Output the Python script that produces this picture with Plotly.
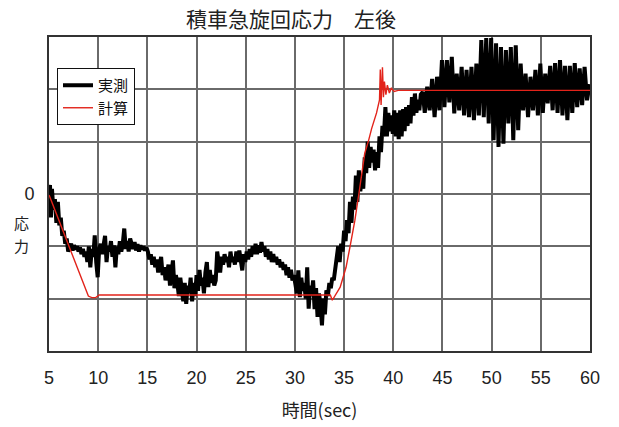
import plotly.graph_objects as go

# ---- data (time in sec, stress in grid units; 0 = reference line) ----
measured_5_10 = [
    (5.0, 0.05), (5.1, 0.17), (5.2, -0.45), (5.3, 0.1), (5.45, -0.3), (5.6, -0.1),
    (5.75, -0.55), (5.9, -0.15), (6.05, -0.6), (6.2, -0.45), (6.35, -0.8), (6.5, -0.7),
    (6.65, -0.95), (6.8, -0.85), (6.95, -1.1), (7.1, -1.0), (7.25, -0.95), (7.4, -1.08),
    (7.55, -0.98), (7.7, -1.06), (7.85, -1.0), (8.0, -1.1), (8.15, -1.02), (8.3, -1.15),
    (8.45, -1.05), (8.6, -1.2), (8.75, -1.1), (8.9, -1.3), (9.05, -1.0), (9.2, -1.4),
    (9.35, -1.05), (9.5, -1.2), (9.65, -0.79), (9.8, -1.3), (9.95, -1.59),
]
measured_10_15 = [
    (10.1, -1.05), (10.25, -0.95), (10.4, -1.15), (10.55, -1.0), (10.7, -0.8), (10.85, -1.3),
    (11.0, -1.0), (11.15, -1.1), (11.3, -0.9), (11.45, -1.2), (11.6, -0.98), (11.75, -1.4),
    (11.9, -1.0), (12.05, -1.15), (12.2, -0.9), (12.35, -1.1), (12.5, -0.95), (12.65, -0.66),
    (12.8, -1.05), (12.95, -0.9), (13.1, -1.1), (13.25, -0.85), (13.4, -0.95), (13.55, -1.05),
    (13.7, -0.92), (13.85, -1.08), (14.0, -0.96), (14.15, -1.1), (14.3, -0.98), (14.45, -1.06),
    (14.6, -1.0), (14.75, -1.08), (14.9, -1.02),
]
measured_15_19 = [
    (15.05, -1.1), (15.2, -1.25), (15.35, -1.15), (15.5, -1.35), (15.65, -1.2), (15.8, -1.4),
    (15.95, -1.25), (16.1, -1.5), (16.25, -1.3), (16.4, -1.2), (16.55, -1.55), (16.7, -1.4),
    (16.85, -1.65), (17.0, -1.45), (17.15, -1.35), (17.3, -1.75), (17.45, -1.5), (17.6, -1.27),
    (17.75, -1.8), (17.9, -1.55), (18.05, -1.7), (18.2, -1.95), (18.35, -1.6), (18.5, -1.85),
    (18.65, -2.05), (18.8, -1.7), (18.95, -2.1), (19.1, -1.75), (19.25, -1.9),
]
measured_19_25 = [
    (19.4, -1.6), (19.55, -2.05), (19.7, -1.7), (19.85, -1.95), (20.0, -1.55), (20.15, -1.85),
    (20.3, -1.45), (20.45, -1.75), (20.6, -1.6), (20.75, -1.9), (20.9, -1.5), (21.05, -1.3),
    (21.2, -1.78), (21.35, -1.45), (21.5, -1.7), (21.65, -1.55), (21.8, -1.75), (21.95, -1.65),
    (22.1, -1.1), (22.25, -1.3), (22.4, -1.5), (22.55, -1.2), (22.7, -1.35), (22.85, -1.15),
    (23.0, -1.3), (23.15, -1.2), (23.3, -1.4), (23.45, -1.1), (23.6, -1.3), (23.75, -1.2),
    (23.9, -1.35), (24.05, -1.1), (24.2, -1.3), (24.35, -1.08), (24.5, -1.25), (24.65, -1.46),
    (24.8, -1.15), (24.95, -1.3),
]
measured_25_30 = [
    (25.1, -1.1), (25.25, -1.25), (25.4, -1.05), (25.55, -1.2), (25.7, -1.0), (25.85, -1.15),
    (26.0, -0.95), (26.15, -1.15), (26.3, -0.98), (26.45, -1.12), (26.6, -0.92), (26.75, -1.1),
    (26.9, -1.0), (27.05, -1.2), (27.2, -1.05), (27.35, -1.25), (27.5, -1.1), (27.65, -1.3),
    (27.8, -1.15), (27.95, -1.3), (28.1, -1.2), (28.25, -1.35), (28.4, -1.25), (28.55, -1.4),
    (28.7, -1.3), (28.85, -1.45), (29.0, -1.35), (29.15, -1.55), (29.3, -1.4), (29.45, -1.6),
    (29.6, -1.45), (29.75, -1.65), (29.9, -1.55),
]
measured_30_34 = [
    (30.05, -1.7), (30.2, -1.9), (30.35, -1.46), (30.5, -1.97), (30.65, -1.6), (30.8, -1.85),
    (30.95, -1.7), (31.1, -2.0), (31.25, -1.4), (31.4, -2.19), (31.55, -1.75), (31.7, -1.95),
    (31.85, -1.65), (32.0, -2.2), (32.15, -1.8), (32.3, -2.35), (32.45, -1.9), (32.6, -2.1),
    (32.75, -2.51), (32.9, -2.0), (33.05, -2.3), (33.2, -1.84), (33.35, -1.95), (33.5, -1.7),
    (33.65, -1.8), (33.8, -1.6), (33.95, -1.65), (34.1, -1.4),
]
measured_34_43 = [
    (34.25, -1.25), (34.4, -1.0), (34.55, -1.3), (34.7, -0.95), (34.85, -1.1), (35.0, -0.7),
    (35.15, -0.9), (35.3, -0.5), (35.45, -0.75), (35.6, -0.15), (35.75, -0.55), (35.9, -0.05),
    (36.05, -0.3), (36.2, 0.35), (36.35, -0.15), (36.5, 0.45), (36.65, 0.05), (36.8, 0.3),
    (36.95, 0.1), (37.1, 0.7), (37.25, 0.4), (37.4, 1.0), (37.55, 0.5), (37.7, 0.9),
    (37.85, 0.6), (38.0, 0.85), (38.15, 0.45), (38.3, 0.8), (38.45, 0.5), (38.6, 1.1),
    (38.75, 0.8), (38.9, 1.3), (39.05, 1.1), (39.2, 1.66), (39.35, 1.1), (39.5, 1.55),
    (39.65, 1.2), (39.8, 1.5), (39.95, 1.15), (40.1, 1.6), (40.25, 1.1), (40.4, 1.55),
    (40.55, 1.05), (40.7, 1.6), (40.85, 1.1), (41.0, 1.62), (41.15, 1.2), (41.3, 1.66),
    (41.45, 1.3), (41.6, 1.7), (41.75, 1.35), (41.9, 1.85), (42.05, 1.5), (42.2, 1.92),
    (42.35, 1.55), (42.5, 1.8), (42.65, 1.6), (42.8, 1.9),
]
measured_43_60 = [
    (43.0, 1.95), (43.2, 1.55), (43.45, 2.05), (43.7, 1.6), (43.95, 2.2), (44.2, 1.47),
    (44.45, 2.24), (44.7, 1.6), (44.95, 2.56), (45.2, 1.66), (45.45, 2.56), (45.7, 1.75),
    (45.95, 2.62), (46.2, 1.54), (46.45, 2.3), (46.7, 1.6), (46.95, 2.43), (47.2, 1.5),
    (47.45, 2.37), (47.7, 1.47), (47.95, 2.43), (48.2, 1.41), (48.45, 2.49), (48.7, 1.5),
    (48.95, 2.94), (49.2, 1.47), (49.45, 2.98), (49.7, 1.35), (49.95, 2.98), (50.2, 1.03),
    (50.45, 2.88), (50.7, 0.9), (50.95, 2.81), (51.2, 0.96), (51.45, 2.75), (51.7, 1.35),
    (51.95, 2.81), (52.2, 1.03), (52.45, 2.84), (52.7, 1.22), (52.95, 2.49), (53.2, 1.6),
    (53.45, 2.3), (53.7, 1.47), (53.95, 2.24), (54.2, 1.6), (54.45, 2.37), (54.7, 1.5),
    (54.95, 2.49), (55.2, 1.55), (55.45, 2.3), (55.7, 1.73), (55.95, 2.45), (56.2, 1.6),
    (56.45, 2.5), (56.7, 1.55), (56.95, 2.56), (57.2, 1.5), (57.45, 2.45), (57.7, 1.41),
    (57.95, 2.45), (58.2, 1.55), (58.45, 2.5), (58.7, 1.66), (58.95, 2.4), (59.2, 1.7),
    (59.45, 2.43), (59.7, 1.79), (59.95, 2.1),
]

calculated = [
    (5.0, -0.02), (5.05, -0.04), (9.0, -1.95), (9.35, -1.98), (9.75, -1.98), (10.1, -1.93),
    (33.6, -1.93), (33.8, -2.03), (34.6, -1.78), (35.2, -1.40), (35.6, -1.01), (36.1, -0.50),
    (36.5, 0.0), (36.8, 0.4), (37.1, 0.78), (37.5, 1.03), (37.8, 1.25), (38.3, 1.55),
    (38.6, 1.8), (38.68, 2.38), (38.76, 1.7), (38.9, 2.42), (39.0, 1.85), (39.1, 2.15),
    (39.25, 1.9), (39.4, 2.08), (39.6, 1.93), (39.8, 2.02), (40.1, 1.96), (40.5, 1.98),
    (60.0, 1.98),
]

x_ticks = [5, 10, 15, 20, 25, 30, 35, 40, 45, 50, 55, 60]
y_label_vals = [0]
y_label_text = ["0"]
y_other_grid = [-2, -1, 1, 2]

measured = (measured_5_10 + measured_10_15 + measured_15_19 + measured_19_25
            + measured_25_30 + measured_30_34 + measured_34_43 + measured_43_60)

LAT = "Liberation Sans, Arial, Noto Sans CJK JP, sans-serif"
CJK = "Noto Sans CJK JP, Liberation Sans, sans-serif"
GRID = "#6a6a6a"

fig = go.Figure()
fig.add_trace(go.Scatter(
    x=[p[0] for p in measured], y=[p[1] for p in measured],
    mode="lines", name="実測", line=dict(color="#000000", width=4),
))
fig.add_trace(go.Scatter(
    x=[p[0] for p in calculated], y=[p[1] for p in calculated],
    mode="lines", name="計算", line=dict(color="#e2231a", width=1.4),
))

fig.update_layout(
    width=619, height=427,
    margin=dict(l=49, r=29, t=37, b=76, autoexpand=False),
    paper_bgcolor="white", plot_bgcolor="white",
    title=dict(text="積車急旋回応力　左後", x=291 / 619, xanchor="center",
               y=1 - 20 / 427, yanchor="middle",
               font=dict(family=CJK, size=21, color="#222222")),
    showlegend=True,
    legend=dict(x=(57 - 49) / 541, y=(351 - 68) / 314, xanchor="left", yanchor="top",
                bgcolor="white", bordercolor="#111111", borderwidth=1,
                font=dict(family=LAT, size=15, color="#111111"),
                tracegroupgap=0, itemwidth=30),
    font=dict(family=LAT, color="#222222"),
)
fig.update_xaxes(
    range=[5, 60], tickvals=x_ticks, ticktext=[str(v) for v in x_ticks],
    showgrid=True, gridcolor=GRID, gridwidth=1.5, zeroline=False,
    showline=True, linecolor="#333333", linewidth=2, mirror=True,
    ticks="", ticklabelstandoff=9, automargin=False,
    tickfont=dict(family=LAT, size=18, color="#222222"),
    title=dict(text="時間(sec)", standoff=18, font=dict(family=CJK, size=18, color="#222222")),
)
fig.update_yaxes(
    range=[-3, 3], tickvals=y_label_vals, ticktext=y_label_text,
    showgrid=True, gridcolor=GRID, gridwidth=1.5, zeroline=False,
    minor=dict(tickvals=y_other_grid, showgrid=True, gridcolor=GRID, gridwidth=1.5, ticks=""),
    showline=True, linecolor="#333333", linewidth=2, mirror=True,
    ticks="", ticklabelstandoff=9, automargin=False,
    tickfont=dict(family=LAT, size=18, color="#222222"),
)
for ch, yc in (("応", 222), ("力", 245)):
    fig.add_annotation(
        text=ch, xref="paper", yref="paper",
        x=(21 - 49) / 541, y=(351 - yc) / 314, xanchor="center", yanchor="middle",
        showarrow=False,
        font=dict(family=CJK, size=15, color="#222222"),
    )

fig.write_html("out.html", config={"displayModeBar": False},
               post_script="document.body.style.margin='0';document.body.style.padding='0';")
